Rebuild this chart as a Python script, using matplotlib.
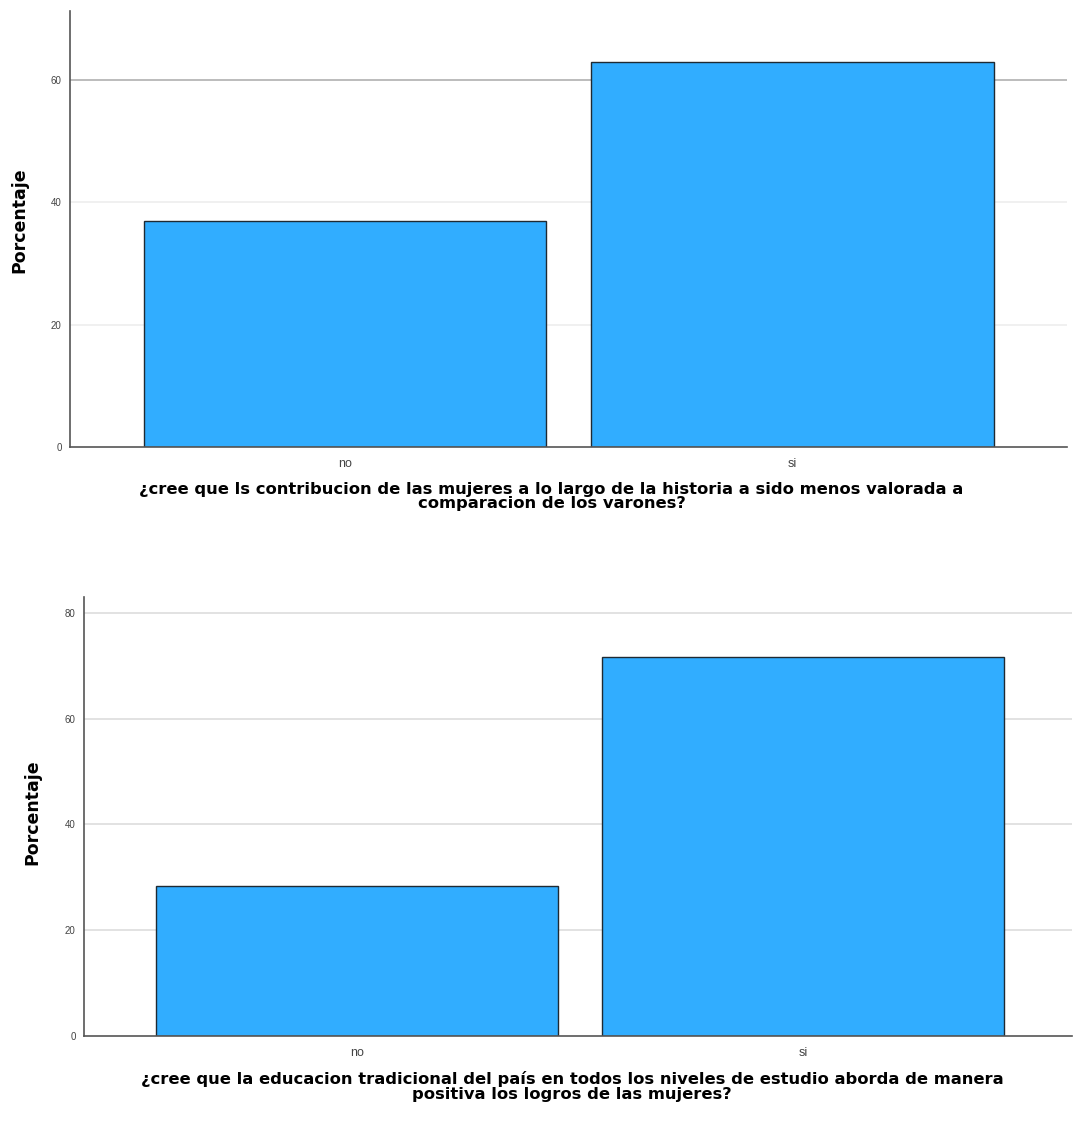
import numpy as np
import matplotlib.pyplot as plt

categories = ['no', 'si']

# chart 1
pct_contribucion = [37.0, 63.0]
label_contribucion = ('¿cree que ls contribucion de las mujeres a lo largo de la historia a sido menos valorada a\n'
                      'comparacion de los varones?')
yticks_1 = [0, 20, 40, 60]

# chart 2
pct_educacion = [28.4, 71.6]
label_educacion = ('¿cree que la educacion tradicional del país en todos los niveles de estudio aborda de manera\n'
                   'positiva los logros de las mujeres?')
yticks_2 = [0, 20, 40, 60, 80]

bar_color = '#31adff'
plt.rcParams['font.family'] = ['Liberation Sans', 'DejaVu Sans']

fig = plt.figure(figsize=(10.74, 11.24), dpi=100)


def spss_bar(rect, values, xlabel, yticks, ylim, xlim, grid_colors, xlab_x, ylab_xy):
    ax = fig.add_axes(rect)
    x = np.arange(len(categories))
    for yt, gc in zip(yticks[1:], grid_colors):
        ax.axhline(yt, color=gc, lw=1.2, zorder=0)
    ax.bar(x, values, width=0.9, color=bar_color, edgecolor='#1e2a33', linewidth=1.0, zorder=2)
    ax.set_xlim(*xlim)
    ax.set_ylim(0, ylim)
    ax.set_xticks(x, categories, fontsize=9, color='#444444')
    ax.set_yticks(yticks)
    ax.tick_params(axis='y', labelsize=7, colors='#444444', length=0, pad=6)
    ax.tick_params(axis='x', length=0, pad=8)
    for s in ['top', 'right']:
        ax.spines[s].set_visible(False)
    for s in ['left', 'bottom']:
        ax.spines[s].set_color('#555555')
        ax.spines[s].set_linewidth(1.2)
    ax.set_xlabel(xlabel, fontsize=11.8, fontweight='bold', family='DejaVu Sans',
                  linespacing=0.95)
    ax.xaxis.set_label_coords(xlab_x, -0.08)
    ax.set_ylabel('Porcentaje', fontsize=12.5, fontweight='bold', family='DejaVu Sans')
    ax.yaxis.set_label_coords(*ylab_xy)
    return ax


spss_bar((0.0652, 0.6023, 0.9283, 0.3879), pct_contribucion, label_contribucion,
         yticks_1, 71.3, (-0.6145, 1.613), ['#eeeeee', '#eeeeee', '#b0b0b0'],
         0.483, (-0.042, 0.52))
spss_bar((0.0782, 0.0783, 0.92, 0.3906), pct_educacion, label_educacion,
         yticks_2, 83.0, (-0.612, 1.603), ['#dddddd', '#dddddd', '#dddddd', '#dddddd'],
         0.494, (-0.043, 0.51))

fig.savefig('out.png', dpi=100)
